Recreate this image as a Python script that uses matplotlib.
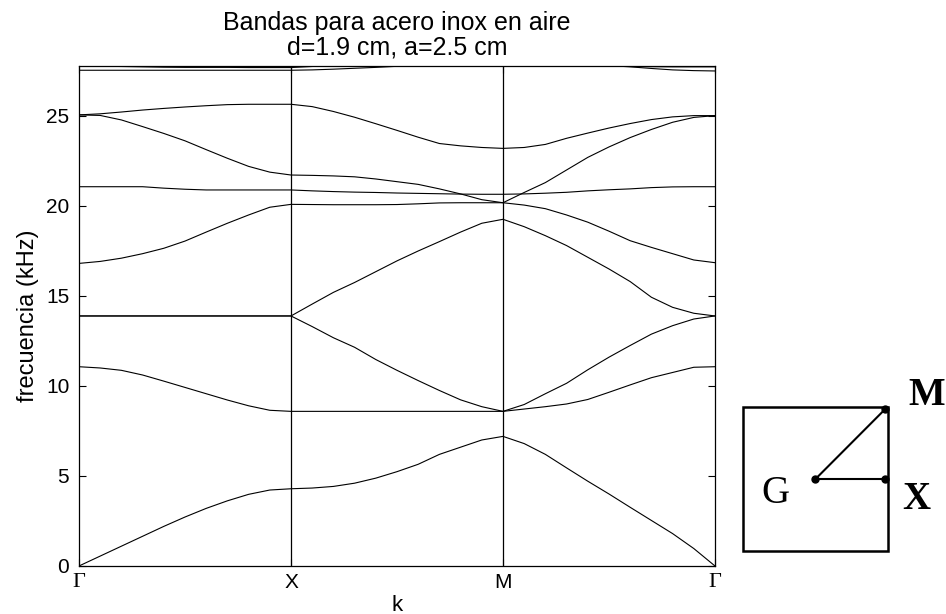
import matplotlib
matplotlib.use('Agg')
import matplotlib.pyplot as plt
from matplotlib.patches import Rectangle

# ---------------- data ----------------
k = [0.0, 0.1, 0.2, 0.3, 0.4, 0.5, 0.6, 0.7, 0.8, 0.9,
     1.0, 1.1, 1.2, 1.3, 1.4, 1.5, 1.6, 1.7, 1.8, 1.9,
     2.0, 2.1, 2.2, 2.3, 2.4, 2.5, 2.6, 2.7, 2.8, 2.9, 3.0]

band1 = [0.0, 0.55, 1.1, 1.65, 2.2, 2.72, 3.2, 3.62, 3.98, 4.22,
         4.29, 4.33, 4.42, 4.6, 4.88, 5.24, 5.65, 6.2, 6.6, 7.0,
         7.2, 6.8, 6.2, 5.45, 4.71, 4.0, 3.26, 2.53, 1.8, 0.97, 0.0]
band2 = [11.07, 11.0, 10.87, 10.61, 10.27, 9.92, 9.57, 9.22, 8.9, 8.65,
         8.59, 8.59, 8.59, 8.59, 8.59, 8.59, 8.59, 8.59, 8.59, 8.59,
         8.59, 8.72, 8.85, 9.0, 9.25, 9.65, 10.06, 10.46, 10.75, 11.04, 11.07]
band3 = [13.89, 13.89, 13.89, 13.89, 13.89, 13.89, 13.89, 13.89, 13.89, 13.89,
         13.89, 13.3, 12.68, 12.15, 11.47, 10.87, 10.3, 9.75, 9.23, 8.85,
         8.59, 8.97, 9.57, 10.15, 10.9, 11.6, 12.25, 12.88, 13.35, 13.72, 13.89]
band4 = [16.81, 16.92, 17.1, 17.35, 17.65, 18.05, 18.55, 19.04, 19.5, 19.93,
         20.09, 20.08, 20.07, 20.07, 20.07, 20.08, 20.12, 20.17, 20.18, 20.18,
         20.18, 20.05, 19.85, 19.5, 19.1, 18.6, 18.07, 17.7, 17.35, 17.0, 16.85]
band5 = [13.89, 13.89, 13.89, 13.89, 13.89, 13.89, 13.89, 13.89, 13.89, 13.89,
         13.89, 14.55, 15.2, 15.75, 16.35, 16.95, 17.5, 18.02, 18.55, 19.04,
         19.26, 18.85, 18.35, 17.8, 17.15, 16.5, 15.8, 14.93, 14.37, 14.04, 13.89]
band6 = [21.07, 21.07, 21.07, 21.07, 20.99, 20.93, 20.89, 20.89, 20.89, 20.89,
         20.89, 20.84, 20.8, 20.77, 20.75, 20.72, 20.7, 20.68, 20.66, 20.65,
         20.65, 20.67, 20.71, 20.76, 20.84, 20.9, 20.95, 21.02, 21.06, 21.07, 21.07]
band7 = [25.06, 25.03, 24.78, 24.41, 24.03, 23.62, 23.13, 22.65, 22.2, 21.88,
         21.72, 21.7, 21.67, 21.62, 21.5, 21.35, 21.2, 20.95, 20.67, 20.35,
         20.18, 20.75, 21.3, 22.0, 22.7, 23.28, 23.8, 24.25, 24.65, 24.92, 25.02]
band8 = [25.06, 25.12, 25.22, 25.33, 25.42, 25.5, 25.57, 25.63, 25.65, 25.65,
         25.65, 25.52, 25.25, 24.93, 24.57, 24.2, 23.82, 23.47, 23.34, 23.25,
         23.2, 23.25, 23.42, 23.76, 24.05, 24.33, 24.58, 24.8, 24.95, 25.02, 25.02]
band9 = [27.54, 27.54, 27.54, 27.54, 27.54, 27.54, 27.54, 27.54, 27.54, 27.54,
         27.54, 27.56, 27.6, 27.65, 27.7, 27.76, 27.85, 27.95, 28.05, 28.1,
         28.12, 28.1, 28.05, 27.97, 27.88, 27.8, 27.73, 27.64, 27.56, 27.52, 27.5]
band10 = [27.76, 27.76, 27.75, 27.73, 27.71, 27.7, 27.7, 27.7, 27.69, 27.69,
          27.69, 27.75, 27.85, 27.95, 28.1, 28.2, 28.3, 28.4, 28.5, 28.55,
          28.6, 28.5, 28.35, 28.2, 28.0, 27.8, 27.75, 27.74, 27.73, 27.73, 27.73]
bands = [band1, band2, band3, band4, band5, band6, band7, band8, band9, band10]

sym_pos = [0, 1, 2, 3]
sym_labels = ['Γ', 'X', 'M', 'Γ']
y_ticks = [0, 5, 10, 15, 20, 25]

title_text = 'Bandas para acero inox en aire\nd=1.9 cm, a=2.5 cm'
xlabel_text = 'k'
ylabel_text = 'frecuencia (kHz)'

# inset (Brillouin zone sketch) in local units: square [-1, 1]
zone_G = (0.0, 0.0)
zone_X = (0.96, 0.0)
zone_M = (0.96, 0.97)

# ---------------- figure ----------------
plt.rcParams['font.family'] = ['Liberation Sans', 'DejaVu Sans']
fig = plt.figure(figsize=(9.46, 6.14), dpi=100)
ax = fig.add_axes([0.0835, 0.0782, 0.6723, 0.8150])

for b in bands:
    ax.plot(k, b, color='black', lw=0.8)
for p in sym_pos[1:-1]:
    ax.axvline(p, color='black', lw=0.9)

ax.set_xlim(0, 3)
ax.set_ylim(0, 27.8)
ax.set_xticks(sym_pos)
ax.set_xticklabels(sym_labels)
ax.set_yticks(y_ticks)
ax.tick_params(direction='in', length=5, width=0.8, top=True, right=True,
               labelsize=15, colors='black')
ax.tick_params(axis='y', pad=7)
ax.tick_params(axis='x', pad=5)
for lab in ax.get_xticklabels():
    if lab.get_text() == 'Γ':
        lab.set_fontfamily(['Liberation Serif', 'DejaVu Serif'])
        lab.set_fontsize(16)
for sp in ax.spines.values():
    sp.set_linewidth(0.9)
    sp.set_color('black')

ax.set_title(title_text, fontsize=18, pad=8, linespacing=1.0)
ax.set_xlabel(xlabel_text, fontsize=16, labelpad=2)
ax.set_ylabel(ylabel_text, fontsize=17, labelpad=5)

# inset
ins = fig.add_axes([0.7854, 0.1026, 0.1533, 0.2345])
ins.set_xlim(-1, 1)
ins.set_ylim(-1, 1)
ins.axis('off')
ins.add_patch(Rectangle((-1, -1), 2, 2, fill=False, lw=1.8, ec='black', clip_on=False))
ins.plot([zone_G[0], zone_X[0]], [zone_G[1], zone_X[1]], color='black', lw=1.5, clip_on=False)
ins.plot([zone_G[0], zone_M[0]], [zone_G[1], zone_M[1]], color='black', lw=1.5, clip_on=False)
ins.plot([zone_G[0], zone_X[0], zone_M[0]], [zone_G[1], zone_X[1], zone_M[1]], 'o',
         color='black', ms=5, clip_on=False)
serif = ['Liberation Serif', 'DejaVu Serif']
ins.text(-0.55, -0.2, 'G', fontsize=28, family=serif, ha='center', va='center', clip_on=False)
ins.text(1.39, -0.28, 'X', fontsize=28, family=serif, fontweight='bold', ha='center', va='center', clip_on=False)
ins.text(1.53, 1.16, 'M', fontsize=28, family=serif, fontweight='bold', ha='center', va='center', clip_on=False)

fig.savefig('out.png', dpi=100)
